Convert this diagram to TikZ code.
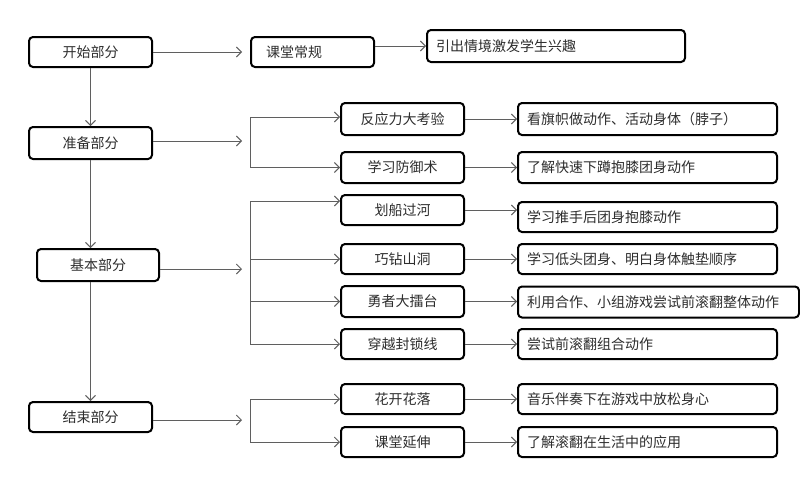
\documentclass[tikz,border=0pt]{standalone}
\usepackage{fontspec}
\newfontfamily\cjk{Noto Sans CJK SC}
\usepackage{tikz}
\usetikzlibrary{calc,positioning}
\usetikzlibrary{arrows.meta}
\definecolor{linegray}{RGB}{95,95,95}
\definecolor{textgray}{RGB}{45,45,45}
\tikzset{
    box/.style={
        draw=black,
        line width=2pt,
        rounded corners=4pt,
        minimum height=30pt,
        inner ysep=2pt,
        text=textgray,
        font=\cjk\fontsize{14}{16}\selectfont
    },
    % 左列与中列方框
    partbox/.style={box, minimum width=123pt},
    % 右列说明框，文字左对齐
    notebox/.style={box, anchor=west, inner xsep=9pt, text width=241pt, align=left},
    link/.style={
        line width=0.9pt,
        linegray,
        ->,
        >={Straight Barb[length=5pt, width=10pt, line width=0.9pt]}
    },
    bracket/.style={line width=0.9pt, linegray}
}
\begin{document}
\begin{tikzpicture}[x=1pt,y=-1pt]
    \useasboundingbox[fill=white] (0,0) rectangle (800,479);
    % ===================== 左列 =====================
    \node[partbox] (ks) at (90.5,52) {开始部分};
    \node[partbox, minimum height=32pt] (zb) at (90.5,143) {准备部分};
    \node[partbox, minimum width=122pt, minimum height=32pt] (jb) at (98,265) {基本部分};
    \node[partbox] (js) at (90.5,417) {结束部分};

    \draw[link] (ks) -- (zb);
    \draw[link] (zb.south) -- (zb.south |- jb.north);
    \draw[link] (js.north |- jb.south) -- (js);

    % ===================== 开始部分 =====================
    \node[box, anchor=west, minimum width=123pt, inner xsep=15pt, text width=93pt, align=left] (kt) at (250,52) {课堂常规};
    \node[notebox, text width=240pt, minimum height=32pt] (yq) at (426,46) {引出情境激发学生兴趣};
    \draw[link, shorten >=8pt] (ks) -- (kt);
    \draw[link] (kt.east |- yq.west) -- (yq.west);

    % ===================== 中列 =====================
    \node[partbox, minimum height=32pt] (fy) at (402.5,119) {反应力大考验};
    \node[partbox, minimum height=31pt] (xf) at (402.5,167.5) {学习防御术};
    \node[partbox] (hc) at (402.5,210) {划船过河};
    \node[partbox] (qz) at (402.5,259) {巧钻山洞};
    \node[partbox, minimum height=31pt] (yz) at (402.5,301.5) {勇者大擂台};
    \node[partbox] (cy) at (402.5,344) {穿越封锁线};
    \node[partbox] (hk) at (402.5,399) {花开花落};
    \node[partbox] (kd) at (402.5,442) {课堂延伸};

    % ===================== 右列 =====================
    \node[notebox, minimum height=32pt] (r1) at (517,119) {看旗帜做动作、活动身体（脖子）};
    \node[notebox, minimum height=31pt] (r2) at (517,167.5) {了解快速下蹲抱膝团身动作};
    \node[notebox] (r3) at (517,217) {学习推手后团身抱膝动作};
    \node[notebox] (r4) at (517,259) {学习低头团身、明白身体触垫顺序};
    \node[notebox, text width=263pt, minimum height=31pt] (r5) at (517,302) {利用合作、小组游戏尝试前滚翻整体动作};
    \node[notebox] (r6) at (517,344) {尝试前滚翻组合动作};
    \node[notebox] (r7) at (517,399) {音乐伴奏下在游戏中放松身心};
    \node[notebox] (r8) at (517,442) {了解滚翻在生活中的应用};

    \foreach \m/\r in {fy/r1, xf/r2, hc/r3, qz/r4, yz/r5, cy/r6, hk/r7, kd/r8}
        \draw[link] (\m.east) -- (\m.east -| \r.west);

    % ===================== 分支 =====================
    \path
    (250,141) coordinate (zbr)
    (250,269) coordinate (jbr)
    (250,420) coordinate (jsr)
    (250,117) coordinate (zbtop)
    (250,201) coordinate (jbtop);

    \draw[link, shorten >=8pt] (zb.east |- zbr) -- (zbr);
    \draw[link, shorten >=8pt] (jb.east |- jbr) -- (jbr);
    \draw[link, shorten >=8pt] (js.east |- jsr) -- (jsr);

    \draw[bracket] (zbtop) -- (zbr |- xf.west);
    \draw[bracket] (jbtop) -- (jbr |- cy.west);
    \draw[bracket] (jsr |- hk.west) -- (jsr |- kd.west);

    \draw[link] (zbtop) -- (zbtop -| fy.west);
    \draw[link] (zbr |- xf.west) -- (xf.west);
    \draw[link] (jbtop) -- (jbtop -| hc.west);
    \draw[link] (jbr |- qz.west) -- (qz.west);
    \draw[link] (jbr |- yz.west) -- (yz.west);
    \draw[link] (jbr |- cy.west) -- (cy.west);
    \draw[link] (jsr |- hk.west) -- (hk.west);
    \draw[link] (jsr |- kd.west) -- (kd.west);
\end{tikzpicture}
\end{document}
